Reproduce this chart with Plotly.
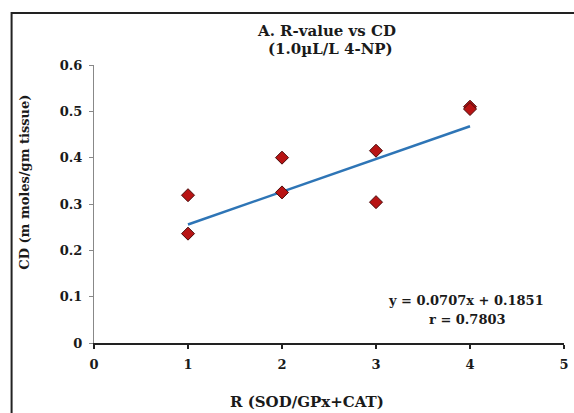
import plotly.graph_objects as go

# Data
r_values = [1, 1, 2, 2, 3, 3, 4, 4]
cd_values = [0.319, 0.236, 0.400, 0.325, 0.415, 0.304, 0.510, 0.505]

# Linear trendline reported on the chart
fit_slope = 0.0707
fit_intercept = 0.1851
fit_r = 0.7803
trend_x = [1, 4]

x_ticks = [0, 1, 2, 3, 4, 5]
y_ticks = [0, 0.1, 0.2, 0.3, 0.4, 0.5, 0.6]
y_tick_labels = ["0", "0.1", "0.2", "0.3", "0.4", "0.5", "0.6"]

trend_y = [fit_slope * x + fit_intercept for x in trend_x]

FONT = "DejaVu Serif"
FS = 13
TXT = "#1a1a1a"

# plot area in pixels
L, R, T, B = 93.5, 564, 65, 342.7
W, H = R - L, B - T


def px(x):
    return (x - L) / W


def py(y):
    return (B - y) / H


fig = go.Figure()
fig.add_trace(go.Scatter(
    x=trend_x, y=trend_y, mode="lines",
    line=dict(color="#2E75B6", width=2.5),
    showlegend=False, hoverinfo="skip",
))
fig.add_trace(go.Scatter(
    x=r_values, y=cd_values, mode="markers",
    marker=dict(symbol="diamond", size=10, color="#B81414",
                line=dict(color="#4a0a0a", width=1)),
    showlegend=False,
))

fig.update_layout(
    width=574, height=413,
    margin=dict(l=L, r=574 - R, t=T, b=413 - B, autoexpand=False),
    paper_bgcolor="white", plot_bgcolor="white",
    font=dict(family=FONT, size=FS, color=TXT),
    xaxis=dict(
        range=[0, 5], tickvals=x_ticks,
        ticktext=["<b>%d</b>" % v for v in x_ticks],
        showgrid=False, zeroline=False, showline=True,
        linecolor="#222", linewidth=2, automargin=False,
        ticks="outside", ticklen=4, tickcolor="#222", tickwidth=1.5,
        ticklabelstandoff=4,
        tickfont=dict(family=FONT, size=FS, color=TXT),
    ),
    yaxis=dict(
        range=[0, 0.6], tickvals=y_ticks,
        ticktext=["<b>%s</b>" % t for t in y_tick_labels],
        showgrid=False, zeroline=False, showline=True,
        linecolor="#888", linewidth=1, automargin=False,
        ticks="outside", ticklen=4, tickcolor="#888",
        ticklabelstandoff=4,
        tickfont=dict(family=FONT, size=FS, color=TXT),
    ),
    annotations=[
        dict(text="<b>A. R-value vs CD</b>", xref="paper", yref="paper",
             x=px(326), y=py(31), showarrow=False,
             xanchor="center", yanchor="middle",
             font=dict(family=FONT, size=15, color=TXT)),
        dict(text="<b>(1.0µL/L 4-NP)</b>", xref="paper", yref="paper",
             x=px(330), y=py(49), showarrow=False,
             xanchor="center", yanchor="middle",
             font=dict(family=FONT, size=15, color=TXT)),
        dict(text="<b>y = %.4fx + %.4f</b>" % (fit_slope, fit_intercept),
             xref="paper", yref="paper",
             x=px(466), y=py(300), showarrow=False,
             xanchor="center", yanchor="middle",
             font=dict(family=FONT, size=FS, color=TXT)),
        dict(text="<b>r = %.4f</b>" % fit_r,
             xref="paper", yref="paper",
             x=px(467.5), y=py(319), showarrow=False,
             xanchor="center", yanchor="middle",
             font=dict(family=FONT, size=FS, color=TXT)),
        dict(text="<b>R (SOD/GPx+CAT)</b>", xref="paper", yref="paper",
             x=px(307), y=py(402), showarrow=False,
             xanchor="center", yanchor="middle",
             font=dict(family=FONT, size=15, color=TXT)),
        dict(text="<b>CD (m moles/gm tissue)</b>", xref="paper", yref="paper",
             x=px(24), y=py(182), showarrow=False, textangle=-90,
             xanchor="center", yanchor="middle",
             font=dict(family=FONT, size=13, color=TXT)),
    ],
    shapes=[
        dict(type="rect", xref="paper", yref="paper",
             x0=px(11), x1=px(590), y0=py(430), y1=py(13),
             line=dict(color="#222", width=2), fillcolor="rgba(0,0,0,0)",
             layer="below"),
    ],
)

fig.write_html(
    "out.html",
    config={"displayModeBar": False},
    post_script="document.body.style.margin='0';document.body.style.padding='0';",
)
